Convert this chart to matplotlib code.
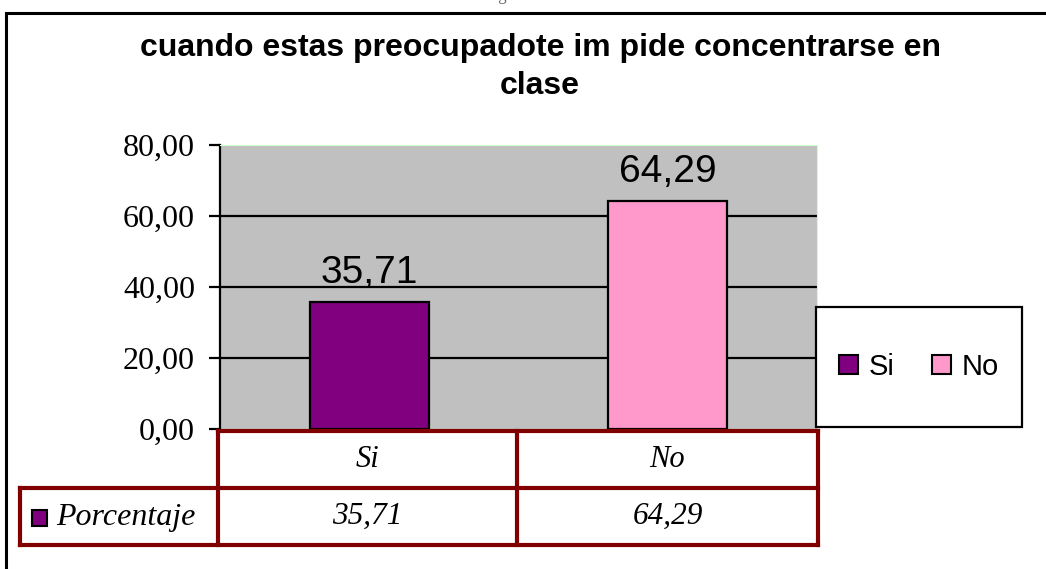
import matplotlib.pyplot as plt
from matplotlib.patches import Rectangle
from matplotlib.lines import Line2D

# datos
categorias = ['Si', 'No']
porcentaje = [35.71, 64.29]
colores = ['#800080', '#FF99CC']
serie = 'Porcentaje'
titulo = 'cuando estas preocupadote im pide concentrarse en\nclase'
yticks = [0, 20, 40, 60, 80]

W, H = 1046, 569
fig = plt.figure(figsize=(W / 100, H / 100), dpi=100)
fig.patch.set_facecolor('white')


def fx(x):
    return x / W


def fy(y):
    return 1 - y / H


def fmt(v):
    return f'{v:.2f}'.replace('.', ',')


SERIF = 'Liberation Serif'
SANS = 'Liberation Sans'
DARKRED = '#800000'

# borde exterior del grafico
fig.add_artist(Rectangle((fx(6), fy(600)), fx(1100), fy(13) - fy(600), transform=fig.transFigure,
                         fill=False, edgecolor='black', linewidth=2.2))
# texto cortado arriba (solo se ve la parte inferior)
fig.text(0.545, fy(-4), 'Investigación: Datos de la encuesta', ha='center', va='center',
         fontsize=12, color='#666666', family=SERIF)

fig.text(fx(540), fy(67), titulo, ha='center', va='center', fontsize=23, fontweight='bold',
         family=SANS, linespacing=1.38)

# area de trazado
L, T, R, B = 220, 145, 817, 429
ax = fig.add_axes([fx(L), fy(B), fx(R) - fx(L), fy(T) - fy(B)])
ax.set_facecolor('#C0C0C0')
ax.set_xlim(-0.5, len(categorias) - 0.5)
ax.set_ylim(0, 80)
for v in yticks[1:-1]:
    ax.axhline(v, color='black', linewidth=1.6, zorder=1)
x = range(len(categorias))
ax.bar(x, porcentaje, width=0.4, color=colores, edgecolor='black', linewidth=1.6, zorder=2)
for i, v in enumerate(porcentaje):
    ax.annotate(fmt(v), (i, v), xytext=(0, 8), textcoords='offset points', ha='center', va='bottom',
                fontsize=28, family=SANS)
ax.set_yticks(yticks)
ax.set_yticklabels([fmt(v) for v in yticks], family=SERIF, fontsize=23)
ax.tick_params(axis='y', length=8, width=1.6, pad=10)
ax.set_xticks([])
ax.spines['left'].set_linewidth(1.6)
ax.spines['top'].set_color('#CCFFCC')
ax.spines['right'].set_color('#CCFFCC')
ax.spines['bottom'].set_visible(False)

# tabla de datos
tl, tm, tr = 218, 517, 818
y0, y1, y2 = 431, 488, 545
hl = 20
lw = 3
ln = dict(color=DARKRED, linewidth=lw, transform=fig.transFigure, solid_capstyle='projecting')
fig.add_artist(Line2D([fx(tl), fx(tr)], [fy(y0), fy(y0)], **ln))
fig.add_artist(Line2D([fx(hl), fx(tr)], [fy(y1), fy(y1)], **ln))
fig.add_artist(Line2D([fx(hl), fx(tr)], [fy(y2), fy(y2)], **ln))
fig.add_artist(Line2D([fx(hl), fx(hl)], [fy(y1), fy(y2)], **ln))
for xv in (tl, tm, tr):
    fig.add_artist(Line2D([fx(xv), fx(xv)], [fy(y0), fy(y2)], **ln))
cx = [(tl + tm) / 2, (tm + tr) / 2]
for i, c in enumerate(categorias):
    fig.text(fx(cx[i]), fy((y0 + y1) / 2), c, ha='center', va='center', fontsize=22,
             style='italic', family=SERIF)
    fig.text(fx(cx[i]), fy((y1 + y2) / 2), fmt(porcentaje[i]), ha='center', va='center',
             fontsize=22.5, style='italic', family=SERIF)
fig.add_artist(Rectangle((fx(32), fy(526)), fx(15), fy(510) - fy(526), transform=fig.transFigure,
                         facecolor=colores[0], edgecolor='black', linewidth=1.5))
fig.text(fx(56), fy(517), serie, ha='left', va='center', fontsize=23, style='italic', family=SERIF)

# leyenda
fig.add_artist(Rectangle((fx(816), fy(427)), fx(1022) - fx(816), fy(307) - fy(427),
                         transform=fig.transFigure, facecolor='white', edgecolor='black', linewidth=1.6))
handles = [Rectangle((0, 0), 1, 1, facecolor=c, edgecolor='black', linewidth=1.5) for c in colores]
fig.legend(handles, categorias, loc='center', bbox_to_anchor=(fx(919), fy(367)), ncol=2,
           frameon=False, prop={'family': SANS, 'size': 21}, handlelength=0.65, handleheight=0.65,
           handletextpad=0.35, columnspacing=1.3)

fig.savefig('out.png', dpi=100)
